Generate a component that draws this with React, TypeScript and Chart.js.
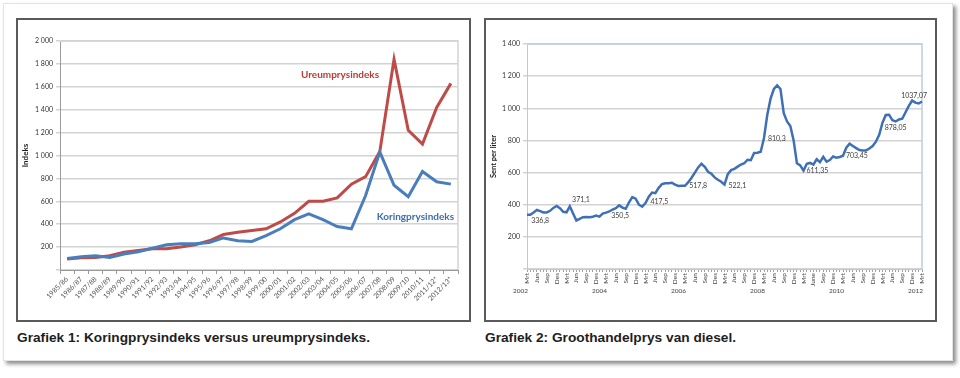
import React, { useEffect, useRef } from 'react';
import { Chart, registerables } from 'chart.js';

Chart.register(...registerables);

// ---------- Grafiek 1 data ----------
const SEASONS = [
  '1985/86', '1986/87', '1987/88', '1988/89', '1989/90', '1990/91', '1991/92',
  '1992/93', '1993/94', '1994/95', '1995/96', '1996/97', '1997/98', '1998/99',
  '1999/00', '2000/01', '2001/02', '2002/03', '2003/04', '2004/05', '2005/06',
  '2006/07', '2007/08', '2008/09', '2009/10', '2010/11', '2011/12*', '2012/13*',
];
const KORING = [
  100, 115, 125, 110, 140, 160, 190, 220, 230, 230, 240, 280, 255, 250,
  300, 360, 440, 490, 440, 380, 360, 650, 1030, 740, 640, 860, 770, 750,
];
const UREUM = [
  95, 107, 110, 125, 155, 170, 185, 185, 200, 220, 255, 310, 330, 345,
  360, 420, 495, 600, 600, 630, 750, 815, 1035, 1840, 1220, 1100, 1420, 1630,
];
const LEFT_Y_MAX = 2000;
const LEFT_Y_STEP = 200;
const LEFT_SERIES_TEXT = ['Ureumprysindeks', 'Koringprysindeks'];
const LEFT_SERIES_TEXT_IDX = [19.2, 24.5];
const LEFT_SERIES_TEXT_VAL = [1703, 463];
const LEFT_SERIES_TEXT_COLOR = ['#be3b36', '#3c6eb0'];

// ---------- Grafiek 2 data ----------
const MONTHS = ['Jan', 'Feb', 'Mrt', 'Apr', 'Mei', 'Jun', 'Jul', 'Aug', 'Sep', 'Okt', 'Nov', 'Des'];
const START_YEAR = 2002;
const START_MONTH = 2; // Mrt
const DIESEL = [
  338, 338, 352, 367, 360, 352, 352, 362, 380, 392, 378, 356,
  353, 390, 345, 302, 312, 322, 324, 322, 325, 332, 326, 345,
  351, 358, 370, 378, 396, 382, 375, 415, 448, 438, 400, 388,
  410, 450, 476, 472, 505, 528, 533, 534, 537, 525, 517, 518,
  518, 540, 568, 600, 632, 655, 636, 605, 593, 570, 555, 543,
  525, 590, 615, 623, 637, 650, 658, 680, 677, 722, 724, 730,
  815, 960, 1060, 1120, 1143, 1120, 970, 918, 890, 800, 658, 645,
  612, 655, 660, 650, 683, 665, 698, 668, 678, 700, 692, 697,
  705, 755, 780, 765, 752, 740, 738, 738, 750, 765, 792, 835,
  910, 958, 960, 926, 918, 930, 935, 975, 1015, 1048, 1035, 1030,
  1042,
];
const MONTH_LABEL_OVERRIDES: Record<string, string> = { 'Jun 2009': 'June' };
const DIESEL_LABELS = DIESEL.map((_, i) => {
  const m = (START_MONTH + i) % 12;
  const y = START_YEAR + Math.floor((START_MONTH + i) / 12);
  return `${MONTHS[m]} ${y}`;
});
const YEAR_LABELS = ['2002', '2004', '2006', '2008', '2010', '2012'];
const RIGHT_Y_MAX = 1400;
const RIGHT_Y_STEP = 200;
const ANNOT_TEXT = ['336,8', '371,1', '350,5', '417,5', '517,8', '522,1', '810,3', '611,35', '703,45', '878,05', '1037,07'];
const ANNOT_IDX = [4, 16.4, 28.3, 40.2, 52, 63.9, 75.9, 88.2, 100.2, 112, 117.6];
const ANNOT_VAL = [299, 431, 332, 417, 518, 521, 809, 610, 703, 877, 1081];

const FONT = 'Lato, "Open Sans", sans-serif';

const fmtSpace = (v: number) => String(v).replace(/\B(?=(\d{3})+(?!\d))/g, ' ');

type TextItem = { text: string; x: number; y: number; color: string; font: string };

function textPlugin(id: string, items: TextItem[]) {
  return {
    id,
    afterDatasetsDraw(chart: any) {
      const { ctx, scales } = chart;
      ctx.save();
      ctx.textAlign = 'center';
      ctx.textBaseline = 'middle';
      items.forEach((it) => {
        ctx.font = it.font;
        ctx.fillStyle = it.color;
        ctx.fillText(it.text, scales.x.getPixelForValue(it.x), scales.y.getPixelForValue(it.y));
      });
      ctx.restore();
    },
  };
}

function framePlugin(id: string, color: string, width: number) {
  return {
    id,
    beforeDatasetsDraw(chart: any) {
      const { ctx, chartArea: a } = chart;
      ctx.save();
      ctx.strokeStyle = color;
      ctx.lineWidth = width;
      ctx.beginPath();
      ctx.moveTo(a.left, a.top);
      ctx.lineTo(a.right, a.top);
      ctx.lineTo(a.right, a.bottom);
      ctx.stroke();
      ctx.restore();
    },
  };
}

const yearPlugin = {
  id: 'yearLabels',
  afterDraw(chart: any) {
    const { ctx, scales } = chart;
    const x = scales.x;
    ctx.save();
    ctx.font = `6.5px ${FONT}`;
    ctx.fillStyle = '#444';
    ctx.textAlign = 'center';
    ctx.textBaseline = 'middle';
    YEAR_LABELS.forEach((y) => {
      const idx = (Number(y) - START_YEAR) * 12 - START_MONTH;
      ctx.fillText(y, x.getPixelForValue(idx), x.top + 22);
    });
    ctx.restore();
  },
};

function LeftChart() {
  const ref = useRef<HTMLCanvasElement>(null);
  useEffect(() => {
    const items: TextItem[] = LEFT_SERIES_TEXT.map((t, i) => ({
      text: t,
      x: LEFT_SERIES_TEXT_IDX[i],
      y: LEFT_SERIES_TEXT_VAL[i],
      color: LEFT_SERIES_TEXT_COLOR[i],
      font: `bold 10px ${FONT}`,
    }));
    const chart = new Chart(ref.current!, {
      type: 'line',
      data: {
        labels: SEASONS,
        datasets: [
          { label: 'Koringprysindeks', data: KORING, borderColor: '#4a7ebb', borderWidth: 3, pointRadius: 0, tension: 0, fill: false },
          { label: 'Ureumprysindeks', data: UREUM, borderColor: '#be4b48', borderWidth: 3, pointRadius: 0, tension: 0, fill: false },
        ],
      },
      options: {
        responsive: false,
        animation: false,
        layout: { padding: { left: 0, right: 11, top: 21, bottom: 0 } },
        plugins: { legend: { display: false }, tooltip: { enabled: false } },
        scales: {
          x: {
            type: 'category',
            offset: true,
            grid: { offset: true, drawOnChartArea: false, tickLength: 4, color: '#9a9a9a' },
            border: { color: '#9a9a9a' },
            ticks: { autoSkip: false, minRotation: 45, maxRotation: 45, padding: 1, color: '#555', font: { size: 7, family: FONT } },
            afterFit: (s: any) => { s.height = 50; },
          },
          y: {
            min: 0,
            max: LEFT_Y_MAX,
            ticks: { stepSize: LEFT_Y_STEP, padding: 3, color: '#333', font: { size: 7, family: FONT }, callback: (v: any) => (v === 0 ? '' : fmtSpace(v)) },
            grid: { color: '#d3d3d3', lineWidth: 1.5, tickLength: 4 },
            border: { color: '#9a9a9a' },
            title: { display: true, text: 'Indeks', color: '#222', font: { size: 8, weight: 'bold', family: FONT }, padding: { top: 3, bottom: 0 } },
            afterFit: (s: any) => { s.width = 42; },
          },
        },
      } as any,
      plugins: [framePlugin('frameL', '#d3d3d3', 1.5), textPlugin('textL', items)],
    });
    return () => chart.destroy();
  }, []);
  return <canvas ref={ref} width={451} height={300} style={{ display: 'block', width: 451, height: 300 }} />;
}

function RightChart() {
  const ref = useRef<HTMLCanvasElement>(null);
  useEffect(() => {
    const items: TextItem[] = ANNOT_TEXT.map((t, i) => ({
      text: t,
      x: ANNOT_IDX[i],
      y: ANNOT_VAL[i],
      color: '#404040',
      font: `7px ${FONT}`,
    }));
    const chart = new Chart(ref.current!, {
      type: 'line',
      data: {
        labels: DIESEL_LABELS,
        datasets: [
          { label: 'Diesel', data: DIESEL, borderColor: '#3f70b6', borderWidth: 2.5, pointRadius: 0, tension: 0, fill: false },
        ],
      },
      options: {
        responsive: false,
        animation: false,
        layout: { padding: { left: 0, right: 13, top: 24, bottom: 0 } },
        plugins: { legend: { display: false }, tooltip: { enabled: false } },
        scales: {
          x: {
            type: 'category',
            offset: false,
            grid: { drawOnChartArea: false, tickLength: 3, color: '#a0a0a0' },
            border: { color: '#b9c9de' },
            ticks: {
              autoSkip: false, minRotation: 90, maxRotation: 90, padding: 1, color: '#444',
              font: { size: 6.5, family: FONT },
              callback: (_v: any, i: number) => {
                if (i % 3 !== 0) return '';
                const lab = DIESEL_LABELS[i];
                return MONTH_LABEL_OVERRIDES[lab] ?? lab.split(' ')[0];
              },
            },
            afterFit: (s: any) => { s.height = 51; },
          },
          y: {
            min: 0,
            max: RIGHT_Y_MAX,
            ticks: { stepSize: RIGHT_Y_STEP, padding: 3, color: '#333', font: { size: 7, family: FONT }, callback: (v: any) => (v === 0 ? '' : fmtSpace(v)) },
            grid: { color: '#d3d3d3', lineWidth: 1.5, tickLength: 4 },
            border: { color: '#b9c9de' },
            title: { display: true, text: 'Sent per liter', color: '#222', font: { size: 7.5, weight: 'bold', family: FONT }, padding: { top: 3, bottom: 0 } },
            afterFit: (s: any) => { s.width = 41; },
          },
        },
      } as any,
      plugins: [framePlugin('frameR', '#b9cde5', 1.5), textPlugin('textR', items), yearPlugin],
    });
    return () => chart.destroy();
  }, []);
  return <canvas ref={ref} width={449} height={300} style={{ display: 'block', width: 449, height: 300 }} />;
}

const captionStyle: React.CSSProperties = {
  position: 'absolute',
  top: 329,
  fontFamily: '"Liberation Sans", Arial, sans-serif',
  fontWeight: 'bold',
  fontSize: 13.7,
  color: '#1e1e1e',
  whiteSpace: 'nowrap',
  lineHeight: '18px',
};

export default function App() {
  return (
    <div style={{ position: 'fixed', left: 0, top: 0, width: 960, height: 378, background: '#ffffff', overflow: 'hidden' }}>
      <div
        style={{
          position: 'absolute', left: 3, top: 3, width: 948, height: 356,
          background: '#fff', border: '1px solid #e4e4e4',
          boxShadow: '3px 3px 4px rgba(0,0,0,0.45)',
        }}
      />
      <div style={{ position: 'absolute', left: 16, top: 18, width: 451, height: 300, border: '2px solid #5a5a5a' }}>
        <LeftChart />
      </div>
      <div style={{ position: 'absolute', left: 484, top: 18, width: 449, height: 300, border: '2px solid #5a5a5a' }}>
        <RightChart />
      </div>
      <div style={{ ...captionStyle, left: 17 }}>Grafiek 1: Koringprysindeks versus ureumprysindeks.</div>
      <div style={{ ...captionStyle, left: 485 }}>Grafiek 2: Groothandelprys van diesel.</div>
    </div>
  );
}
